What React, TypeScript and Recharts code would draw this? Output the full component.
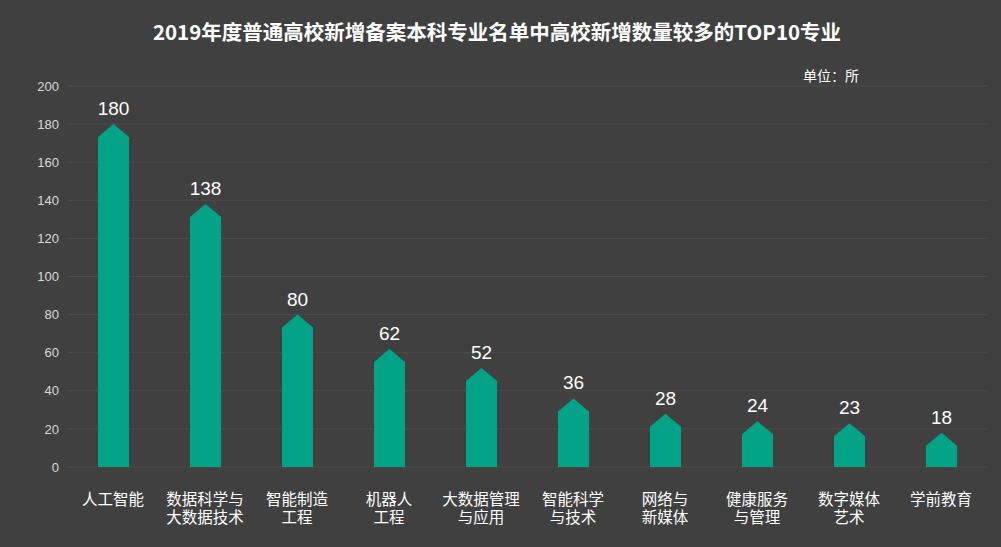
import { BarChart, Bar, XAxis, YAxis, CartesianGrid, LabelList } from "recharts";

const majors = [
    "人工智能",
    "数据科学与\n大数据技术",
    "智能制造\n工程",
    "机器人\n工程",
    "大数据管理\n与应用",
    "智能科学\n与技术",
    "网络与\n新媒体",
    "健康服务\n与管理",
    "数字媒体\n艺术",
    "学前教育",
];

const schoolCounts = [180, 138, 80, 62, 52, 36, 28, 24, 23, 18];

const yTicks = [0, 20, 40, 60, 80, 100, 120, 140, 160, 180, 200];

const data = majors.map((name, i) => ({ name, count: schoolCounts[i] }));

const CJK = '"Noto Sans CJK SC", "Noto Sans", sans-serif';
const LATIN = '"Liberation Sans", Arial, sans-serif';

// bar with a pointed "roof" on top
function ArrowBar(props: any) {
    const { x, y, width, height, fill } = props;
    const tip = Math.min(13, height);
    const d = `M${x},${y + tip} L${x + width / 2},${y} L${x + width},${y + tip} L${x + width},${y + height} L${x},${y + height} Z`;
    return <path d={d} fill={fill} />;
}

function MajorTick(props: any) {
    const { x, y, payload } = props;
    const lines = String(payload.value).split("\n");
    return (
        <text
            x={x}
            y={y}
            textAnchor="middle"
            fill="#ffffff"
            fontSize={15.5}
            fontFamily={CJK}
        >
            {lines.map((line, i) => (
                <tspan key={i} x={x} dy={i === 0 ? 30 : 18}>
                    {line}
                </tspan>
            ))}
        </text>
    );
}

export default function App() {
    return (
        <div
            style={{
                position: "absolute",
                left: 0,
                top: 0,
                width: 1001,
                height: 547,
                background: "#404040",
                overflow: "hidden",
            }}
        >
            <div
                style={{
                    position: "absolute",
                    top: 17,
                    left: 0,
                    width: 994,
                    textAlign: "center",
                    color: "#ffffff",
                    fontFamily: CJK,
                    fontWeight: 700,
                    fontSize: 20.5,
                    lineHeight: "28px",
                }}
            >
                2019年度普通高校新增备案本科专业名单中高校新增数量较多的TOP10专业
            </div>
            <div
                style={{
                    position: "absolute",
                    top: 65,
                    left: 803,
                    color: "#ffffff",
                    fontFamily: CJK,
                    fontSize: 14,
                    lineHeight: "20px",
                }}
            >
                单位：所
            </div>
            <div style={{ position: "absolute", left: 0, top: 0 }}>
                <BarChart
                    width={1001}
                    height={547}
                    data={data}
                    margin={{ top: 86, right: 14, left: 7, bottom: 0 }}
                    barSize={31}
                >
                    <CartesianGrid
                        vertical={false}
                        stroke="#4c4c4c"
                        strokeWidth={1}
                    />
                    <XAxis
                        dataKey="name"
                        height={80}
                        axisLine={false}
                        tickLine={false}
                        interval={0}
                        tick={<MajorTick />}
                    />
                    <YAxis
                        width={60}
                        domain={[0, 200]}
                        ticks={yTicks}
                        axisLine={false}
                        tickLine={false}
                        tick={{ fill: "#d9d9d9", fontSize: 13, fontFamily: LATIN }}
                    />
                    <Bar
                        dataKey="count"
                        fill="#03a387"
                        shape={<ArrowBar />}
                        isAnimationActive={false}
                    >
                        <LabelList
                            dataKey="count"
                            position="top"
                            offset={9}
                            fill="#ffffff"
                            fontSize={19}
                            fontFamily={LATIN}
                        />
                    </Bar>
                </BarChart>
            </div>
        </div>
    );
}
